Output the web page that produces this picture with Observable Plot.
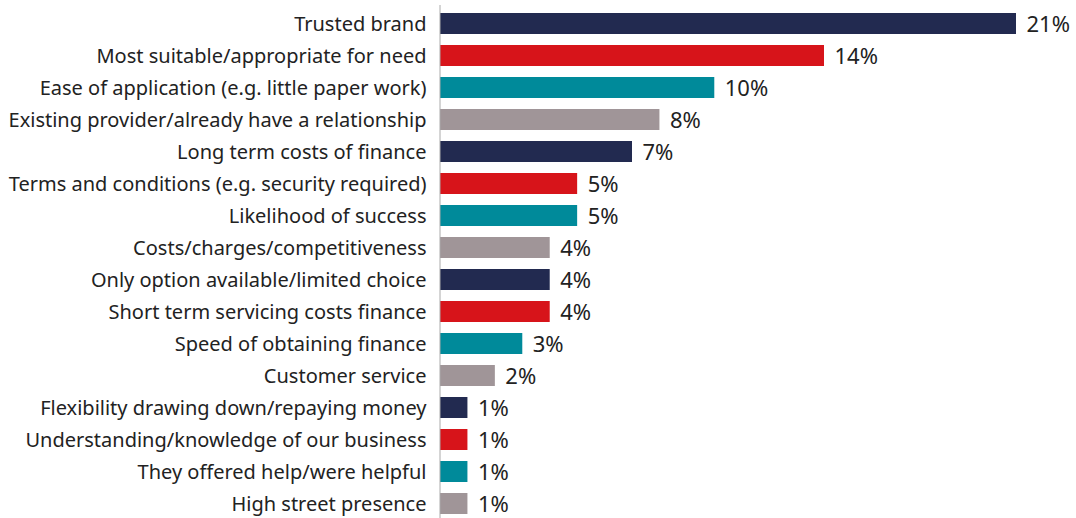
<!DOCTYPE html>
<html><head><meta charset="utf-8">
<script src="https://cdn.jsdelivr.net/npm/d3@7"></script>
<script src="https://cdn.jsdelivr.net/npm/@observablehq/plot@0.6"></script>
<style>body{margin:0;background:#fff;}svg{font-family:"Noto Sans",sans-serif;}</style>
</head><body><div id="chart"></div>
<script>
const categories = ["Trusted brand","Most suitable/appropriate for need","Ease of application (e.g. little paper work)","Existing provider/already have a relationship","Long term costs of finance","Terms and conditions (e.g. security required)","Likelihood of success","Costs/charges/competitiveness","Only option available/limited choice","Short term servicing costs finance","Speed of obtaining finance","Customer service","Flexibility drawing down/repaying money","Understanding/knowledge of our business","They offered help/were helpful","High street presence"];
const values = [21,14,10,8,7,5,5,4,4,4,3,2,1,1,1,1];
const palette = ["#222a50","#d7141a","#008a9a","#a09598"];
const data = categories.map((c,i)=>({category:c, value:values[i], color:palette[i%4]}));
const chart = Plot.plot({
  width:1076, height:518,
  marginLeft:440, marginRight:60, marginTop:12, marginBottom:3,
  x:{domain:[0,21], axis:null},
  y:{domain:categories, paddingInner:0.346, paddingOuter:0, label:null, tickSize:0, tickPadding:14},
  style:{fontSize:"20px", color:"#222"},
  marks:[
    Plot.barX(data,{y:"category", x:"value", fill:"color"}),
    Plot.ruleX([0],{x:d=>d, dx:-0.5, stroke:"#aaaaaa", strokeWidth:1, insetTop:-7, insetBottom:-3}),
    Plot.text(data,{y:"category", x:"value", text:d=>d.value+"%", textAnchor:"start", dx:10, dy:1, fontSize:22, fill:"#222"}),
    Plot.axisY({tickSize:0, tickPadding:14, fontSize:20, fill:"#222", label:null, dy:1})
  ]
});
document.getElementById("chart").appendChild(chart);
</script></body></html>
